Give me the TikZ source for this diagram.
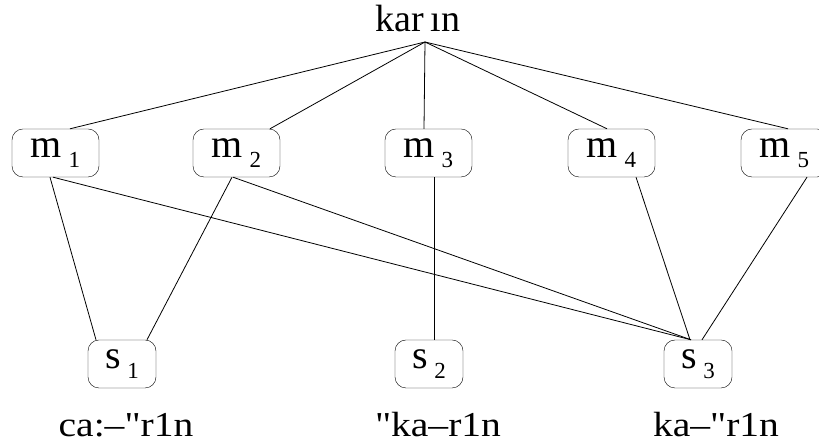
\documentclass[tikz,border=0pt]{standalone}
\usepackage{fontspec}
\setmainfont{Liberation Serif}[Ligatures=TeXOff]
\newcommand\subidx[1]{\raisebox{-10pt}{\fontsize{23}{23}\selectfont #1}}
\newcommand\wide[1]{\scalebox{1.13}[1]{#1}}
\begin{document}
\begin{tikzpicture}[x=1pt,y=1pt,
  mbox/.style={draw,rounded corners=11pt,minimum width=87pt,minimum height=48pt,inner sep=0pt,font=\fontsize{40}{40}\selectfont},
  sbox/.style={draw,rounded corners=11pt,minimum width=68pt,minimum height=48pt,inner sep=0pt,font=\fontsize{40}{40}\selectfont},
  lbl/.style={anchor=base,inner sep=0pt,font=\fontsize{35}{35}\selectfont},
  edge/.style={draw,line width=0.8pt}]
\useasboundingbox (0,0) rectangle (819,443);
\node[anchor=base,inner sep=0pt,font=\fontsize{38}{38}\selectfont] (karin) at (418,411) {kar\,ı{}n};
\coordinate (top) at (425,401);
\node[mbox] (m1) at (55.5,290) {m\,\subidx{1}};
\node[mbox] (m2) at (236.5,290) {m\,\subidx{2}};
\node[mbox] (m3) at (428.5,290) {m\,\subidx{3}};
\node[mbox] (m4) at (611.5,290) {m\,\subidx{4}};
\node[mbox] (m5) at (784.5,290) {m\,\subidx{5}};
\node[sbox] (s1) at (122,79) {s\,\subidx{1}};
\node[sbox] (s2) at (429,79) {s\,\subidx{2}};
\node[sbox] (s3) at (698,79) {s\,\subidx{3}};
\node[lbl] (l1) at (126,6) {\wide{ca:–"r1n}};
\node[lbl] (l2) at (438,6) {\wide{"ka–r1n}};
\node[lbl] (l3) at (716,6) {\wide{ka–"r1n}};
\draw[edge] (top) -- ([xshift=14.5]m1.north);
\draw[edge] (top) -- ([xshift=33.5]m2.north);
\draw[edge] (top) -- ([xshift=-4.5]m3.north);
\draw[edge] (top) -- ([xshift=-4.5]m4.north);
\draw[edge] (top) -- ([xshift=3.5]m5.north);
\draw[edge] ([xshift=-5.5]m1.south) -- ([xshift=-26]s1.north);
\draw[edge] ([xshift=-2.5]m1.south) -- ([xshift=-7]s3.north);
\draw[edge] ([xshift=-4.5]m2.south) -- ([xshift=25]s1.north);
\draw[edge] ([xshift=-3.5]m2.south) -- ([xshift=-7]s3.north);
\draw[edge] ([xshift=5.5]m3.south) -- ([xshift=5]s2.north);
\draw[edge] ([xshift=24.5]m4.south) -- ([xshift=-8]s3.north);
\draw[edge] ([xshift=22.5]m5.south) -- ([xshift=4]s3.north);
\end{tikzpicture}
\end{document}
